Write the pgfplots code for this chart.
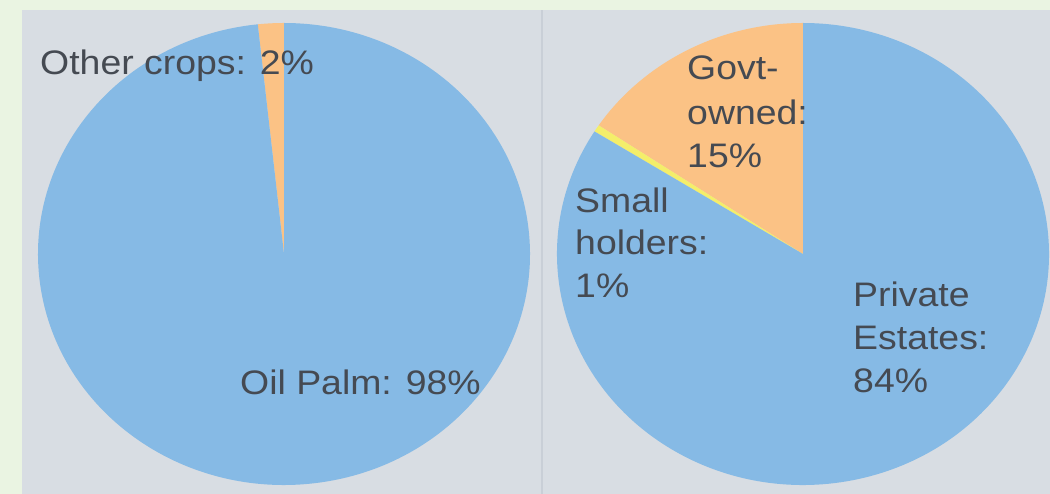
\documentclass[border=0pt]{standalone}
\usepackage{pgfplots}
\pgfplotsset{compat=1.18}
\usepackage{fontspec}
\setmainfont{Liberation Sans}

\definecolor{bordergreen}{HTML}{EAF4E2}
\definecolor{panel}{HTML}{D8DDE3}
\definecolor{sep}{HTML}{C9CFD7}
\definecolor{pieblue}{HTML}{86BAE5}
\definecolor{pieorange}{HTML}{FBC285}
\definecolor{pieyellow}{HTML}{F4EE6A}
\definecolor{labeltext}{HTML}{454A52}

\tikzset{lbl/.style={font=\fontsize{34}{40}\selectfont, text=labeltext,
    inner sep=0pt, anchor=base west, xscale=1.1}}

% slice: center x, center y, start %, end % (cumulative), colour
% slices start at 90 deg and run counter-clockwise
\newcommand{\slice}[5]{%
  \fill[#5] (axis cs:#1,#2) -- ++({90+3.6*#3}:246pt and 231pt)
    arc[start angle={90+3.6*#3}, end angle={90+3.6*#4},
        x radius=246pt, y radius=231pt] -- cycle;}

\begin{document}
\begin{tikzpicture}
\begin{axis}[
  x=1pt, y=1pt,
  xmin=0, xmax=1050, ymin=0, ymax=494,
  hide axis, clip=false,
]
\coordinate (ll) at (axis cs:0,0);
\coordinate (ur) at (axis cs:1050,494);
% backgrounds
\fill[bordergreen] (axis cs:0,0) rectangle (axis cs:1050,494);
\fill[panel] (axis cs:22,0) rectangle (axis cs:1050,484);
\draw[sep, line width=1.5pt] (axis cs:542,0) -- (axis cs:542,484);

% left pie: Other crops 1.7, Oil Palm 98.3
\slice{284}{240}{0}{1.7}{pieorange}
\slice{284}{240}{1.7}{100}{pieblue}

% right pie: Govt-owned 15.6, Small holders 0.5, Private Estates 83.9
\slice{803}{240}{0}{15.6}{pieorange}
\slice{803}{240}{15.6}{16.1}{pieyellow}
\slice{803}{240}{16.1}{100}{pieblue}

% labels
\node[lbl] at (axis cs:40,419) {Other crops: 2\%};
\node[lbl] at (axis cs:240,99) {Oil Palm: 98\%};
\node[lbl] at (axis cs:687,414) {Govt-};
\node[lbl] at (axis cs:687,369) {owned:};
\node[lbl] at (axis cs:687,326) {15\%};
\node[lbl] at (axis cs:575,281) {Small};
\node[lbl] at (axis cs:575,239) {holders:};
\node[lbl] at (axis cs:575,196) {1\%};
\node[lbl] at (axis cs:853,187) {Private};
\node[lbl] at (axis cs:853,144) {Estates:};
\node[lbl] at (axis cs:853,101) {84\%};
\end{axis}
\pgfresetboundingbox
\path[use as bounding box] (ll) rectangle (ur);
\end{tikzpicture}
\end{document}
